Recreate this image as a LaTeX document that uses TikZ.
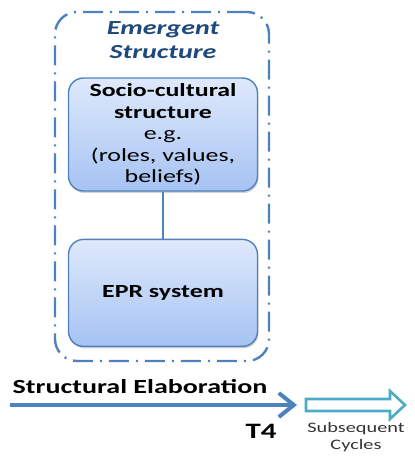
\documentclass[tikz,border=0pt]{standalone}
\usepackage{fontspec}
\setmainfont{Carlito}[FakeStretch=1.4]
\usetikzlibrary{positioning,arrows.meta,shadows}
\definecolor{frameblue}{HTML}{4F81BD}
\definecolor{titleblue}{HTML}{1F497D}
\definecolor{cyclecyan}{HTML}{4BACC6}
\definecolor{boxtop}{HTML}{DFE9FB}
\definecolor{boxbottom}{HTML}{A6C3F3}
\begin{document}
\begin{tikzpicture}
[x=1pt,y=-1pt,
 frame/.style={draw=frameblue,line width=2.4pt,rounded corners=22pt,
   dash pattern=on 20pt off 7pt on 2pt off 7pt},
 box/.style={draw=frameblue,line width=1.4pt,rounded corners=15pt,
   top color=boxtop,bottom color=boxbottom,
   drop shadow={shadow xshift=1pt,shadow yshift=-2pt,opacity=0.35},
   minimum width=189pt,align=center,inner sep=0pt,font=\fontsize{18.5}{21.5}\selectfont}]
\useasboundingbox (0,0) rectangle (415,456);
\node[frame,minimum width=214pt,minimum height=349pt](emergent) at (162,186.5){};
\node[font=\fontsize{20}{24}\selectfont\bfseries\itshape,text=titleblue,align=center](title) at (163,40){Emergent\\Structure};
\node[box,minimum height=113pt](socio) at (163,134.5){\textbf{Socio-cultural}\\\textbf{structure}\\e.g.\\(roles, values,\\beliefs)};
\node[box,minimum height=107pt,below=47pt of socio](epr){\textbf{EPR system}};
\path[draw=frameblue,line width=1.4pt] (socio) -- (epr);
\coordinate (start) at (10,405); \coordinate (t4end) at (297,405);
\draw[draw=frameblue,line width=4pt,-{Straight Barb[length=15pt,width=24pt]}] (start) -- (t4end);
\node[font=\fontsize{20}{24}\selectfont\bfseries](elab) at (140,387){Structural Elaboration};
\node[font=\fontsize{22}{26}\selectfont\bfseries](t4) at (261,431){T4};
\draw[cyclecyan,line width=2.6pt,line join=miter]
 (306,399) -- (390,399) -- (390,391) -- (405,405) -- (390,419) -- (390,411) -- (306,411) -- cycle;
\node[font=\fontsize{14.5}{17}\selectfont,text=black!80,align=center](cycles) at (356,437){Subsequent\\Cycles};
\end{tikzpicture}
\end{document}
